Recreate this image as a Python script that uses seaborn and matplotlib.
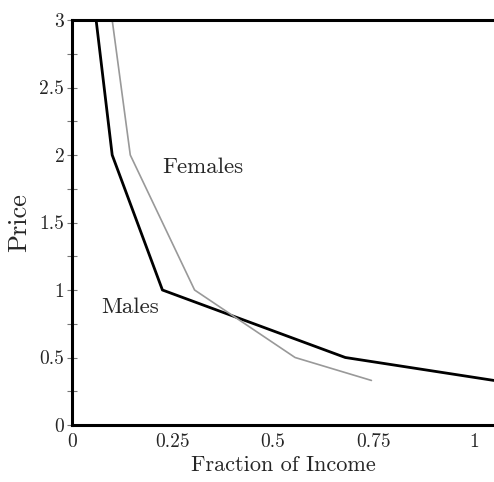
import numpy as np
import pandas as pd
import matplotlib
matplotlib.use("Agg")
import matplotlib.pyplot as plt
import seaborn as sns

# Demand curves
males_income = [0.06, 0.10, 0.225, 0.68, 1.05]
males_price = [3.0, 2.0, 1.0, 0.5, 0.33]
females_income = [0.10, 0.145, 0.305, 0.555, 0.745]
females_price = [3.0, 2.0, 1.0, 0.5, 0.33]

x_ticks = [0, 0.25, 0.5, 0.75, 1]
x_labels = ["0", "0.25", "0.5", "0.75", "1"]
y_ticks = [0, 0.5, 1, 1.5, 2, 2.5, 3]
y_labels = ["0", "0.5", "1", "1.5", "2", "2.5", "3"]

sns.set_style("white")
plt.rcParams['font.family'] = ['cmr10', 'DejaVu Serif']
plt.rcParams['axes.formatter.use_mathtext'] = True

fig = plt.figure(figsize=(4.94, 4.82), dpi=100)
ax = fig.add_axes([72 / 494, 57 / 482, 1 - 72 / 494, 405 / 482])

males = pd.DataFrame({"income": males_income, "price": males_price})
females = pd.DataFrame({"income": females_income, "price": females_price})
sns.lineplot(data=males, x="income", y="price", sort=False, estimator=None,
             color="black", linewidth=2.0, ax=ax)
sns.lineplot(data=females, x="income", y="price", sort=False, estimator=None,
             color="#999999", linewidth=1.2, ax=ax)

ax.set_xlim(0, 1.05)
ax.set_ylim(0, 3)
ax.set_xticks(x_ticks)
ax.set_xticklabels(x_labels)
ax.set_yticks(y_ticks)
ax.set_yticklabels(y_labels)
ax.set_yticks(np.arange(0.25, 3, 0.5), minor=True)
ax.tick_params(axis="y", which="both", direction="inout", length=7, width=0.8,
               color="#777777", labelsize=14, pad=2, left=True)
ax.tick_params(axis="x", length=0, labelsize=14, pad=6)

for side in ["left", "bottom", "top"]:
    ax.spines[side].set_linewidth(2.2)
    ax.spines[side].set_color("black")
ax.spines["right"].set_visible(False)

ax.set_xlabel("Fraction of Income", fontsize=16, labelpad=3)
ax.set_ylabel("Price", fontsize=19, labelpad=6)

ax.text(0.325, 1.91, "Females", fontsize=16.5, ha="center", va="center")
ax.text(0.145, 0.87, "Males", fontsize=16.5, ha="center", va="center")

fig.savefig("out.png", dpi=100)
